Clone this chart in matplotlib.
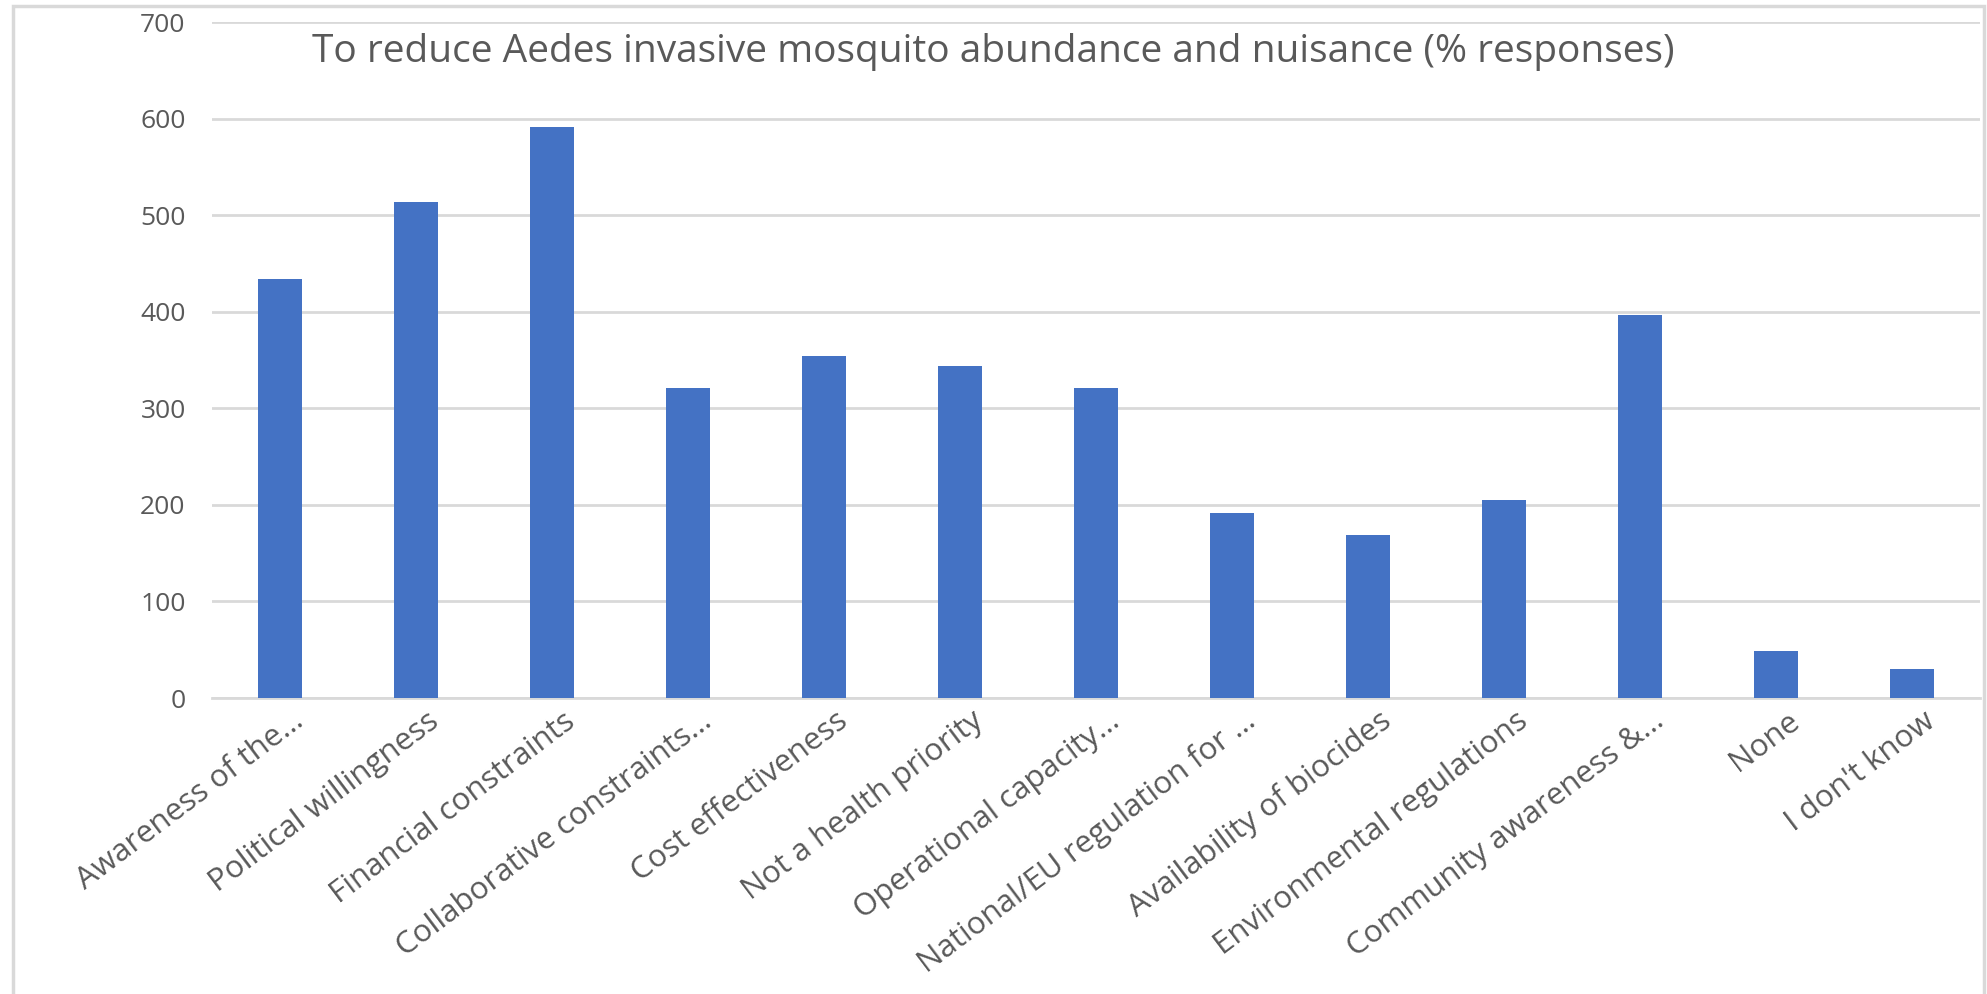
import matplotlib.pyplot as plt
from matplotlib.patches import Rectangle
from matplotlib.transforms import ScaledTranslation

# Data
categories = [
    'Awareness of the…',
    'Political willingness',
    'Financial constraints',
    'Collaborative constraints…',
    'Cost effectiveness',
    'Not a health priority',
    'Operational capacity…',
    'National/EU regulation for …',
    'Availability of biocides',
    'Environmental regulations',
    'Community awareness &…',
    'None',
    "I don't know",
]
values = [434, 514, 591, 321, 354, 344, 321, 192, 169, 205, 397, 49, 30]
y_ticks = [0, 100, 200, 300, 400, 500, 600, 700]

title = 'To reduce Aedes invasive mosquito abundance and nuisance (% responses)'

bar_color = '#4472C4'
grid_color = '#D9D9D9'
text_color = '#595959'

plt.rcParams['font.family'] = ['Open Sans', 'DejaVu Sans']

fig = plt.figure(figsize=(19.87, 9.94), dpi=100)
ax = fig.add_axes([212 / 1987, 1 - 698 / 994, 1768 / 1987, (698 - 22) / 994])

x = range(len(categories))
ax.bar(x, values, width=0.32, color=bar_color, zorder=3)

ax.set_xlim(-0.5, len(categories) - 0.5)
ax.set_ylim(0, 700)
ax.set_yticks(y_ticks)
ax.set_yticklabels([str(v) for v in y_ticks])
ax.yaxis.grid(True, color=grid_color, linewidth=2)
ax.set_axisbelow(True)

for side in ['left', 'right', 'top']:
    ax.spines[side].set_visible(False)
ax.spines['bottom'].set_color(grid_color)
ax.spines['bottom'].set_linewidth(2)

ax.tick_params(axis='y', length=0, pad=19, labelsize=19, labelcolor=text_color)
ax.tick_params(axis='x', length=0, pad=19, labelsize=22.5, labelcolor=text_color)
ax.set_xticks(list(x))
ax.set_xticklabels(categories, rotation=37, ha='right', va='baseline',
                   rotation_mode='anchor')
# Excel puts the end of each rotated label a little right of the tick
shift = ScaledTranslation(25 / 100, 0, fig.dpi_scale_trans)
for lbl in ax.get_xticklabels():
    lbl.set_transform(lbl.get_transform() + shift)

fig.text(0.5, 1 - 62 / 994, title, ha='center', va='baseline',
         fontsize=28, color=text_color)

# light grey chart border
border = Rectangle((13 / 1987, -0.02), (1984 - 13) / 1987, 1.02 - 6 / 994,
                   transform=fig.transFigure, fill=False,
                   edgecolor=grid_color, linewidth=2.5)
fig.patches.append(border)

plt.savefig('out.png', dpi=100)
plt.close()
